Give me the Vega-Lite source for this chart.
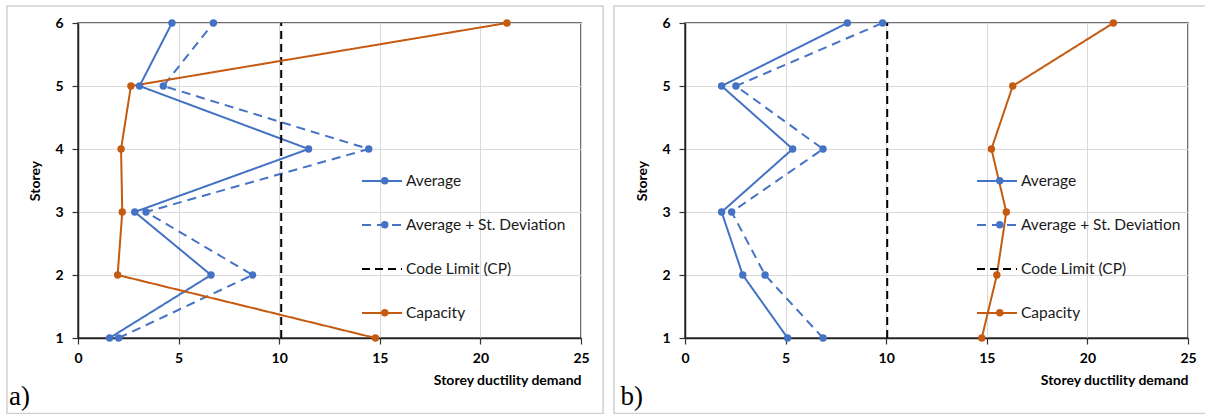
{
  "$schema": "https://vega.github.io/schema/vega-lite/v6.json",
  "padding": {"left": 5, "top": 4, "right": 0, "bottom": 0},
  "background": "white",
  "spacing": 7,
  "datasets": {
    "a": [
      {"series": "Average", "storey": 6, "x": 4.67},
      {"series": "Average", "storey": 5, "x": 3.06},
      {"series": "Average", "storey": 4, "x": 11.46},
      {"series": "Average", "storey": 3, "x": 2.82},
      {"series": "Average", "storey": 2, "x": 6.61},
      {"series": "Average", "storey": 1, "x": 1.57},
      {"series": "Average + St. Deviation", "storey": 6, "x": 6.73},
      {"series": "Average + St. Deviation", "storey": 5, "x": 4.24},
      {"series": "Average + St. Deviation", "storey": 4, "x": 14.45},
      {"series": "Average + St. Deviation", "storey": 3, "x": 3.38},
      {"series": "Average + St. Deviation", "storey": 2, "x": 8.68},
      {"series": "Average + St. Deviation", "storey": 1, "x": 2.02},
      {"series": "Code Limit (CP)", "storey": 1, "x": 10.1},
      {"series": "Code Limit (CP)", "storey": 6, "x": 10.1},
      {"series": "Capacity", "storey": 6, "x": 21.32},
      {"series": "Capacity", "storey": 5, "x": 2.63},
      {"series": "Capacity", "storey": 4, "x": 2.14},
      {"series": "Capacity", "storey": 3, "x": 2.2},
      {"series": "Capacity", "storey": 2, "x": 1.97},
      {"series": "Capacity", "storey": 1, "x": 14.78}
    ],
    "b": [
      {"series": "Average", "storey": 6, "x": 8.07},
      {"series": "Average", "storey": 5, "x": 1.82},
      {"series": "Average", "storey": 4, "x": 5.35},
      {"series": "Average", "storey": 3, "x": 1.82},
      {"series": "Average", "storey": 2, "x": 2.87},
      {"series": "Average", "storey": 1, "x": 5.1},
      {"series": "Average + St. Deviation", "storey": 6, "x": 9.82},
      {"series": "Average + St. Deviation", "storey": 5, "x": 2.53},
      {"series": "Average + St. Deviation", "storey": 4, "x": 6.86},
      {"series": "Average + St. Deviation", "storey": 3, "x": 2.32},
      {"series": "Average + St. Deviation", "storey": 2, "x": 3.98},
      {"series": "Average + St. Deviation", "storey": 1, "x": 6.86},
      {"series": "Code Limit (CP)", "storey": 1, "x": 10.05},
      {"series": "Code Limit (CP)", "storey": 6, "x": 10.05},
      {"series": "Capacity", "storey": 6, "x": 21.29},
      {"series": "Capacity", "storey": 5, "x": 16.29},
      {"series": "Capacity", "storey": 4, "x": 15.23},
      {"series": "Capacity", "storey": 3, "x": 15.97},
      {"series": "Capacity", "storey": 2, "x": 15.5},
      {"series": "Capacity", "storey": 1, "x": 14.75}
    ]
  },
  "resolve": {
    "scale": {"x": "independent", "y": "independent", "color": "independent", "strokeDash": "independent", "fill": "independent"},
    "legend": {"color": "independent", "strokeDash": "independent", "fill": "independent"}
  },
  "hconcat": [
    {
      "width": 503,
      "height": 315,
      "layer": [
        {
          "data": {"values": [{}]},
          "mark": {"type": "rect", "fill": "transparent", "stroke": "#cfcfcf", "strokeWidth": 1.5, "clip": false},
          "encoding": {
            "x": {"datum": -3.53, "type": "quantitative", "scale": {"domain": [0, 25], "nice": false}},
            "x2": {"datum": 26.1},
            "y": {"datum": 6.27, "type": "quantitative", "scale": {"domain": [1, 6], "nice": false}},
            "y2": {"datum": -0.2}
          }
        },
        {
          "data": {"name": "a"},
          "mark": {"type": "line", "strokeWidth": 2, "clip": false},
          "encoding": {
            "x": {"field": "x", "type": "quantitative", "scale": {"domain": [0, 25], "nice": false},
              "axis": {"values": [0, 5, 10, 15, 20, 25], "title": "Storey ductility demand", "titleAnchor": "end"}},
            "y": {"field": "storey", "type": "quantitative", "scale": {"domain": [1, 6], "nice": false},
              "axis": {"values": [1, 2, 3, 4, 5, 6], "format": "d", "title": "Storey"}},
            "order": {"field": "storey", "type": "quantitative"},
            "color": {"field": "series", "type": "nominal",
              "scale": {"domain": ["Average", "Average + St. Deviation", "Code Limit (CP)", "Capacity"], "range": ["#4472C4", "#4472C4", "#000000", "#C55A11"]},
              "legend": {"orient": "none", "legendX": 283, "legendY": 137, "title": null, "symbolType": "stroke", "symbolSize": 1600, "symbolStrokeWidth": 2, "labelOffset": 3, "rowPadding": 14, "padding": 0}},
            "strokeDash": {"field": "series", "type": "nominal",
              "scale": {"domain": ["Average", "Average + St. Deviation", "Code Limit (CP)", "Capacity"], "range": [[1, 0], [9, 6], [8, 5], [1, 0]]}}
          }
        },
        {
          "data": {"name": "a"},
          "transform": [{"filter": "datum.series !== 'Code Limit (CP)'"}],
          "mark": {"type": "circle", "size": 55, "opacity": 1, "clip": false},
          "encoding": {
            "x": {"field": "x", "type": "quantitative"},
            "y": {"field": "storey", "type": "quantitative"},
            "fill": {"field": "series", "type": "nominal",
              "scale": {"domain": ["Average", "Average + St. Deviation", "Code Limit (CP)", "Capacity", " "], "range": ["#4472C4", "#4472C4", "transparent", "#C55A11", "transparent"]},
              "legend": {"orient": "none", "legendX": 299, "legendY": 150, "title": null, "symbolType": "circle", "symbolSize": 55, "symbolStrokeWidth": 0, "labelExpr": "''", "labelOffset": 4, "rowPadding": 27, "padding": 0}}
          }
        },
        {
          "data": {"values": [{}]},
          "mark": {"type": "text", "text": "a)", "font": "Liberation Serif", "fontSize": 27, "align": "left", "baseline": "alphabetic", "color": "#000", "clip": false},
          "encoding": {"x": {"datum": -3.43, "type": "quantitative"}, "y": {"datum": -0.06, "type": "quantitative"}}
        }
      ]
    },
    {
      "width": 503,
      "height": 315,
      "layer": [
        {
          "data": {"values": [{}]},
          "mark": {"type": "rect", "fill": "transparent", "stroke": "#cfcfcf", "strokeWidth": 1.5, "clip": false},
          "encoding": {
            "x": {"datum": -3.53, "type": "quantitative", "scale": {"domain": [0, 25], "nice": false}},
            "x2": {"datum": 26.05},
            "y": {"datum": 6.27, "type": "quantitative", "scale": {"domain": [1, 6], "nice": false}},
            "y2": {"datum": -0.2}
          }
        },
        {
          "data": {"name": "b"},
          "mark": {"type": "line", "strokeWidth": 2, "clip": false},
          "encoding": {
            "x": {"field": "x", "type": "quantitative", "scale": {"domain": [0, 25], "nice": false},
              "axis": {"values": [0, 5, 10, 15, 20, 25], "title": "Storey ductility demand", "titleAnchor": "end"}},
            "y": {"field": "storey", "type": "quantitative", "scale": {"domain": [1, 6], "nice": false},
              "axis": {"values": [1, 2, 3, 4, 5, 6], "format": "d", "title": "Storey"}},
            "order": {"field": "storey", "type": "quantitative"},
            "color": {"field": "series", "type": "nominal",
              "scale": {"domain": ["Average", "Average + St. Deviation", "Code Limit (CP)", "Capacity"], "range": ["#4472C4", "#4472C4", "#000000", "#C55A11"]},
              "legend": {"orient": "none", "legendX": 291, "legendY": 137, "title": null, "symbolType": "stroke", "symbolSize": 1600, "symbolStrokeWidth": 2, "labelOffset": 3, "rowPadding": 14, "padding": 0}},
            "strokeDash": {"field": "series", "type": "nominal",
              "scale": {"domain": ["Average", "Average + St. Deviation", "Code Limit (CP)", "Capacity"], "range": [[1, 0], [9, 6], [8, 5], [1, 0]]}}
          }
        },
        {
          "data": {"name": "b"},
          "transform": [{"filter": "datum.series !== 'Code Limit (CP)'"}],
          "mark": {"type": "circle", "size": 55, "opacity": 1, "clip": false},
          "encoding": {
            "x": {"field": "x", "type": "quantitative"},
            "y": {"field": "storey", "type": "quantitative"},
            "fill": {"field": "series", "type": "nominal",
              "scale": {"domain": ["Average", "Average + St. Deviation", "Code Limit (CP)", "Capacity", " "], "range": ["#4472C4", "#4472C4", "transparent", "#C55A11", "transparent"]},
              "legend": {"orient": "none", "legendX": 307, "legendY": 150, "title": null, "symbolType": "circle", "symbolSize": 55, "symbolStrokeWidth": 0, "labelExpr": "''", "labelOffset": 4, "rowPadding": 27, "padding": 0}}
          }
        },
        {
          "data": {"values": [{}]},
          "mark": {"type": "text", "text": "b)", "font": "Liberation Serif", "fontSize": 27, "align": "left", "baseline": "alphabetic", "color": "#000", "clip": false},
          "encoding": {"x": {"datum": -3.2, "type": "quantitative"}, "y": {"datum": -0.06, "type": "quantitative"}}
        }
      ]
    }
  ],
  "config": {
    "font": "Lato",
    "view": {"stroke": "#404040", "strokeWidth": 1.5},
    "axis": {
      "grid": true,
      "gridColor": "#d9d9d9",
      "gridWidth": 1,
      "domainColor": "#222222",
      "domainWidth": 1.5,
      "tickColor": "#333333",
      "tickSize": 6,
      "tickWidth": 1.2,
      "labelFont": "Lato",
      "labelFontWeight": "bold",
      "labelFontSize": 14,
      "labelColor": "#000000",
      "labelPadding": 7,
      "titleFont": "Lato",
      "titleFontWeight": "bold",
      "titleFontSize": 14,
      "titleColor": "#000000"
    },
    "axisX": {"titlePadding": 8, "labelFlush": false},
    "axisY": {"titlePadding": 12, "labelPadding": 9},
    "legend": {"labelFont": "Lato", "labelFontSize": 15.5, "labelColor": "#1a1a1a"}
  }
}
